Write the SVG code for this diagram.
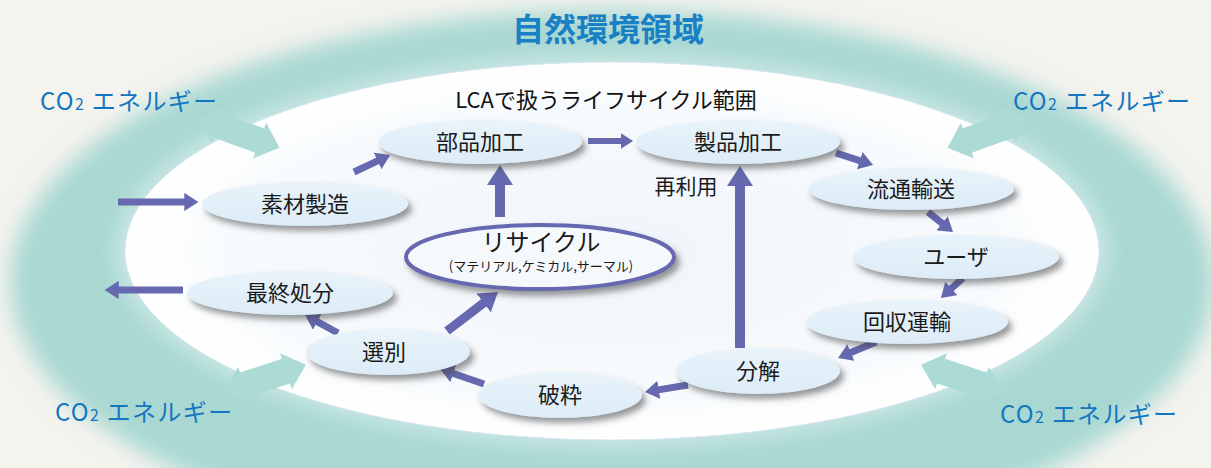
<svg xmlns="http://www.w3.org/2000/svg" xmlns:xlink="http://www.w3.org/1999/xlink" width="1211" height="468" viewBox="0 0 1211 468">
<defs>
<style>
text{font-family:"Noto Sans CJK JP","Noto Sans",sans-serif;}
.co2{font-size:24px;fill:#1376c0;letter-spacing:1.3px;}
.lbl{font-size:22px;fill:#1a1a1a;text-anchor:middle;}
.node{fill:url(#nodeG);filter:url(#sh);}
.conn{stroke:#6668b0;fill:none;marker-end:url(#ah);}
.teal{fill:#acdad5;}
</style>
<linearGradient id="nodeG" x1="0" y1="0" x2="0" y2="1">
<stop offset="0" stop-color="#e9f3fa"/>
<stop offset="1" stop-color="#dcecf7"/>
</linearGradient>
<radialGradient id="innerG" cx="0.5" cy="0.5" r="0.5">
<stop offset="0" stop-color="#eff5fb"/>
<stop offset="0.8" stop-color="#f8fbfd"/>
<stop offset="1" stop-color="#ffffff"/>
</radialGradient>
<filter id="sh" x="-20%" y="-40%" width="140%" height="190%">
<feDropShadow dx="4" dy="5" stdDeviation="3" flood-color="#444" flood-opacity="0.55"/>
</filter>
<filter id="blurO" x="-10%" y="-10%" width="120%" height="120%">
<feGaussianBlur stdDeviation="11"/>
</filter>
<filter id="blurI" x="-10%" y="-10%" width="120%" height="120%">
<feGaussianBlur stdDeviation="10"/>
</filter>
<marker id="ah" viewBox="0 0 20 26" markerWidth="2" markerHeight="2.6" refX="1" refY="13" orient="auto" markerUnits="strokeWidth">
<path d="M0,0 L20,13 L0,26 Z" fill="#6668b0"/>
</marker>
<path id="ta" d="M-43,0 L-22,-19 L-22,-13 L22,-13 L22,-19 L43,0 L22,19 L22,13 L-22,13 L-22,19 Z"/>
</defs>

<rect width="1211" height="468" fill="#f4f3ee"/>
<g id="band">
<ellipse cx="612" cy="282" rx="602" ry="272" fill="#a9d8d3" filter="url(#blurO)"/>
<ellipse cx="612" cy="251" rx="496" ry="196" fill="#ffffff" opacity="0.4" filter="url(#blurI)"/>
<ellipse cx="612" cy="251" rx="487" ry="189" fill="url(#innerG)" stroke="#d6e6ef" stroke-width="1"/>
</g>

<g id="exchange" class="teal">
<use xlink:href="#ta" transform="translate(239,133) rotate(20)"/>
<use xlink:href="#ta" transform="translate(988,133) rotate(-20)"/>
<use xlink:href="#ta" transform="translate(265,378) rotate(-18)"/>
<use xlink:href="#ta" transform="translate(962,378) rotate(18)"/>
</g>

<g id="labels-outer">
<text x="608" y="41" text-anchor="middle" font-size="32" font-weight="bold" fill="#1a80c4">自然環境領域</text>
<text x="606" y="108" text-anchor="middle" font-size="22" fill="#111">LCAで扱うライフサイクル範囲</text>
<text class="co2" x="40" y="110">CO<tspan font-size="16">2</tspan> エネルギー</text>
<text class="co2" x="1013" y="110">CO<tspan font-size="16">2</tspan> エネルギー</text>
<text class="co2" x="55" y="421">CO<tspan font-size="16">2</tspan> エネルギー</text>
<text class="co2" x="1000" y="423">CO<tspan font-size="16">2</tspan> エネルギー</text>
<text x="686" y="194" text-anchor="middle" font-size="21" fill="#1a1a1a">再利用</text>
</g>

<g id="connectors">
<line class="conn" x1="118" y1="202" x2="185" y2="202" stroke-width="7"/>
<line class="conn" x1="183" y1="290" x2="118" y2="290" stroke-width="7"/>
<line class="conn" x1="354" y1="172" x2="378.2" y2="160.6" stroke-width="7"/>
<line class="conn" x1="500" y1="217" x2="500" y2="184" stroke-width="10"/>
<line class="conn" x1="588" y1="141" x2="621.6" y2="141" stroke-width="6"/>
<line class="conn" x1="836" y1="153" x2="860.4" y2="160.9" stroke-width="7"/>
<line class="conn" x1="928" y1="212" x2="942.6" y2="223.7" stroke-width="7"/>
<line class="conn" x1="963" y1="278" x2="950.8" y2="289" stroke-width="7"/>
<line class="conn" x1="876" y1="342" x2="850.3" y2="352.8" stroke-width="7"/>
<line class="conn" x1="688" y1="385" x2="658.1" y2="389.9" stroke-width="7"/>
<line class="conn" x1="484" y1="384" x2="452.6" y2="373.3" stroke-width="7"/>
<line class="conn" x1="338" y1="333" x2="316.7" y2="321.4" stroke-width="7"/>
<line class="conn" x1="447" y1="331" x2="484.4" y2="302.4" stroke-width="9"/>
<line class="conn" x1="740" y1="348" x2="740" y2="185" stroke-width="10"/>
</g>

<g id="n-buhin"><ellipse class="node" cx="480" cy="142" rx="102" ry="22"/><text class="lbl" x="480" y="150">部品加工</text></g>
<g id="n-seihin"><ellipse class="node" cx="738" cy="142" rx="102" ry="22"/><text class="lbl" x="738" y="150">製品加工</text></g>
<g id="n-sozai"><ellipse class="node" cx="305" cy="204" rx="103" ry="22"/><text class="lbl" x="305" y="212">素材製造</text></g>
<g id="n-ryutsu"><ellipse class="node" cx="911" cy="189" rx="103" ry="21"/><text class="lbl" x="911" y="197">流通輸送</text></g>
<g id="n-user"><ellipse class="node" cx="956" cy="257" rx="103" ry="22"/><text class="lbl" x="956" y="265">ユーザ</text></g>
<g id="n-kaishu"><ellipse class="node" cx="907" cy="322" rx="101" ry="22"/><text class="lbl" x="907" y="330">回収運輸</text></g>
<g id="n-bunkai"><ellipse class="node" cx="758" cy="371" rx="82" ry="23"/><text class="lbl" x="758" y="379">分解</text></g>
<g id="n-hasai"><ellipse class="node" cx="560" cy="395" rx="82" ry="23"/><text class="lbl" x="560" y="403">破粋</text></g>
<g id="n-senbetsu"><ellipse class="node" cx="388" cy="352" rx="82" ry="23"/><text class="lbl" x="384" y="360">選別</text></g>
<g id="n-saishu"><ellipse class="node" cx="290" cy="293" rx="103" ry="22"/><text class="lbl" x="290" y="301">最終処分</text></g>
<g id="n-recycle">
<ellipse cx="540" cy="257" rx="134" ry="32" fill="#f6f9fc" stroke="#6668b0" stroke-width="4" filter="url(#sh)"/>
<text x="541" y="251" text-anchor="middle" font-size="24" fill="#1a1a1a">リサイクル</text>
<text x="541" y="271" text-anchor="middle" font-size="13" fill="#1a1a1a">(マテリアル,ケミカル,サーマル)</text>
</g>
</svg>
